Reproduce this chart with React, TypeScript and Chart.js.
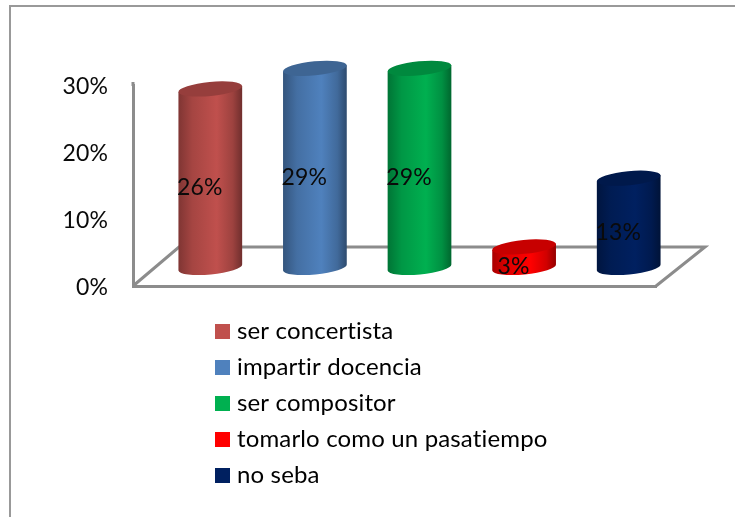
import React, { useEffect, useRef } from "react";
import { Chart, registerables } from "chart.js";

Chart.register(...registerables);

const categories = ["ser concertista", "impartir docencia", "ser compositor", "tomarlo como un pasatiempo", "no seba"];
const shares = [26, 29, 29, 3, 13];
const palette = ["#c0504d", "#4f81bd", "#00b050", "#ff0000", "#002060"];
const axisTicks = [0, 10, 20, 30];

const FONT = "Lato, 'Noto Sans', sans-serif";
const TICK_SIZE = 23;
const LEGEND_SIZE = 24;
const AXIS_GREY = "#8c8c8c";

// Floor depth of the 3D box and the bars' position inside it.
const FLOOR_DX = 46;
const FLOOR_DY = 39;
const BAR_DX = 25;
const BAR_DY = 18.5;
const BAR_STRETCH = 1.025;
const ELLIPSE_RY = 7;
const ELLIPSE_TILT = (-5.5 * Math.PI) / 180;

function shade(hex: string, factor: number): string {
  const n = parseInt(hex.slice(1), 16);
  const r = Math.round(((n >> 16) & 255) * factor);
  const g = Math.round(((n >> 8) & 255) * factor);
  const b = Math.round((n & 255) * factor);
  return `rgb(${r},${g},${b})`;
}

function swatch(color: string): HTMLCanvasElement {
  const c = document.createElement("canvas");
  c.width = 15;
  c.height = 15;
  const ctx = c.getContext("2d")!;
  ctx.fillStyle = color;
  ctx.fillRect(0, 0, 15, 15);
  return c;
}

// A tiny letter spacing keeps the "ti" pairs as separate glyphs instead of a ligature.
const textSetup = {
  id: "textSetup",
  beforeDraw(chart: any) {
    chart.ctx.letterSpacing = "0.15px";
  },
};

const floorPlugin = {
  id: "floor",
  beforeDatasetsDraw(chart: any) {
    const { ctx, chartArea: a } = chart;
    ctx.save();
    ctx.strokeStyle = AXIS_GREY;
    ctx.lineWidth = 3;
    ctx.lineJoin = "miter";
    ctx.beginPath();
    ctx.moveTo(a.left, a.bottom);
    ctx.lineTo(a.left + FLOOR_DX, a.bottom - FLOOR_DY);
    ctx.lineTo(a.right + FLOOR_DX + 3, a.bottom - FLOOR_DY);
    ctx.lineTo(a.right, a.bottom);
    ctx.stroke();
    // The wall edge rises slightly past the top tick.
    ctx.beginPath();
    ctx.moveTo(chart.scales.y.right, a.top + 1);
    ctx.lineTo(chart.scales.y.right, a.top - 3);
    ctx.stroke();
    ctx.restore();
  },
};

const cylinderPlugin = {
  id: "cylinders",
  afterDatasetsDraw(chart: any) {
    const { ctx } = chart;
    const meta = chart.getDatasetMeta(0);
    meta.data.forEach((bar: any, i: number) => {
      const color = palette[i];
      const rx = bar.width / 2;
      const cx = bar.x + BAR_DX;
      const baseY = bar.base - BAR_DY;
      const topY = baseY - (bar.base - bar.y) * BAR_STRETCH;
      const dx = rx * Math.cos(ELLIPSE_TILT);
      const dy = rx * Math.sin(ELLIPSE_TILT);

      const side = ctx.createLinearGradient(cx - rx, 0, cx + rx, 0);
      side.addColorStop(0, shade(color, 0.66));
      side.addColorStop(0.22, shade(color, 0.86));
      side.addColorStop(0.6, color);
      side.addColorStop(0.85, shade(color, 0.82));
      side.addColorStop(1, shade(color, 0.58));

      ctx.save();
      ctx.fillStyle = side;
      ctx.beginPath();
      ctx.ellipse(cx, baseY, rx, ELLIPSE_RY, ELLIPSE_TILT, 0, Math.PI);
      ctx.lineTo(cx - dx, topY - dy);
      ctx.lineTo(cx + dx, topY + dy);
      ctx.closePath();
      ctx.fill();

      ctx.beginPath();
      ctx.ellipse(cx, topY, rx, ELLIPSE_RY, ELLIPSE_TILT, 0, Math.PI * 2);
      ctx.fillStyle = shade(color, 0.78);
      ctx.fill();

      ctx.fillStyle = "#0a0a0a";
      ctx.font = `${TICK_SIZE}px ${FONT}`;
      ctx.textAlign = "center";
      ctx.textBaseline = "middle";
      ctx.fillText(`${shares[i]}%`, cx - 10.5, (baseY + topY) / 2 + 9.5);
      ctx.restore();
    });
  },
};

// Moves the built-in legend below the plot, where it does not take room from the chart area.
const legendPlacement = {
  id: "legendPlacement",
  afterLayout(chart: any) {
    const legend = chart.legend;
    const padding = legend.options.labels.padding;
    legend.left = 220 - padding;
    legend.right = chart.width;
    legend.top = 319 - padding;
    legend.bottom = chart.height;
    legend.width = legend.right - legend.left;
    legend.height = legend.bottom - legend.top;
  },
};

export default function App() {
  const ref = useRef<HTMLCanvasElement>(null);

  useEffect(() => {
    const chart = new Chart(ref.current!, {
      type: "bar",
      data: {
        labels: categories,
        datasets: [
          {
            data: shares,
            backgroundColor: "transparent",
            borderWidth: 0,
            barPercentage: 0.612,
            categoryPercentage: 1,
          },
        ],
      },
      options: {
        responsive: false,
        animation: false,
        layout: { padding: { top: 85, right: 79, bottom: 231, left: 0 } },
        scales: {
          x: {
            ticks: { display: false },
            grid: { display: false, drawTicks: false },
            border: { color: AXIS_GREY, width: 3 },
            afterFit: (s: any) => {
              s.height = 0;
            },
          },
          y: {
            min: 0,
            max: 30,
            afterBuildTicks: (s: any) => {
              s.ticks = axisTicks.map((value) => ({ value }));
            },
            ticks: {
              padding: 25,
              labelOffset: 1.5,
              color: "#0a0a0a",
              font: { family: FONT, size: TICK_SIZE },
              callback: (v: any) => `${v}%`,
            },
            grid: { display: false, drawTicks: false },
            border: { color: AXIS_GREY, width: 3 },
            afterFit: (s: any) => {
              s.width = 133;
            },
          },
        },
        plugins: {
          tooltip: { enabled: false },
          legend: {
            position: "chartArea",
            align: "start",
            labels: {
              boxWidth: 5,
              padding: 12,
              usePointStyle: true,
              color: "#0a0a0a",
              font: { family: FONT, size: LEGEND_SIZE },
              generateLabels: () =>
                categories.map((text, i) => ({
                  text,
                  pointStyle: swatch(palette[i]),
                  fillStyle: palette[i],
                  strokeStyle: palette[i],
                  lineWidth: 0,
                  hidden: false,
                  index: i,
                  datasetIndex: 0,
                })),
            },
          },
        },
      },
      plugins: [textSetup, floorPlugin, cylinderPlugin, legendPlacement],
    } as any);
    return () => chart.destroy();
  }, []);

  return (
    <div style={{ position: "fixed", left: 0, top: 0, width: 735, height: 517, background: "#fff" }}>
      <canvas ref={ref} width={735} height={517} style={{ display: "block" }} />
      <div
        style={{
          position: "absolute",
          left: 9,
          top: 5,
          right: 0,
          bottom: 0,
          borderTop: "2px solid #999",
          borderLeft: "2px solid #999",
        }}
      />
    </div>
  );
}
